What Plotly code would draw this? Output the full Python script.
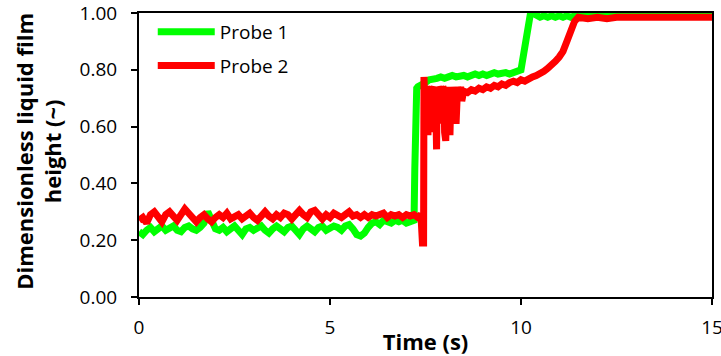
import plotly.graph_objects as go

# ---- Data ----
t_probe1 = [0.0, 0.1, 0.2, 0.3, 0.4, 0.5, 0.6, 0.7, 0.8, 0.9,
            1.0, 1.1, 1.2, 1.3, 1.4, 1.5, 1.6, 1.7, 1.8, 1.9,
            2.0, 2.1, 2.2, 2.3, 2.4, 2.5, 2.6, 2.7, 2.8, 2.9,
            3.0, 3.1, 3.2, 3.3, 3.4, 3.5, 3.6, 3.7, 3.8, 3.9,
            4.0, 4.1, 4.2, 4.3, 4.4, 4.5, 4.6, 4.7, 4.8, 4.9,
            5.0, 5.1, 5.2, 5.3, 5.4, 5.5, 5.6, 5.7, 5.8, 5.9,
            6.0, 6.1, 6.2, 6.3, 6.4, 6.5, 6.6, 6.7, 6.8, 6.9,
            7.0, 7.1, 7.2, 7.22, 7.24, 7.27, 7.3, 7.4, 7.5, 7.6,
            7.7, 7.8, 7.9, 8.0, 8.1, 8.2, 8.3, 8.4, 8.5, 8.6,
            8.7, 8.8, 8.9, 9.0, 9.1, 9.2, 9.3, 9.4, 9.5, 9.6,
            9.7, 9.8, 9.9, 10.0, 10.05, 10.1, 10.15, 10.2, 10.25, 10.3,
            10.35, 10.4, 10.5, 10.6, 10.7, 10.8, 10.9, 11.0, 11.1, 11.2,
            11.3, 11.4, 11.5, 12.0, 13.0, 14.0, 15.0]
h_probe1 = [0.23, 0.22, 0.235, 0.245, 0.23, 0.24, 0.25, 0.235, 0.24, 0.25,
            0.235, 0.23, 0.245, 0.25, 0.24, 0.235, 0.245, 0.26, 0.30, 0.27,
            0.24, 0.235, 0.245, 0.23, 0.24, 0.25, 0.235, 0.22, 0.24, 0.245,
            0.235, 0.24, 0.25, 0.235, 0.225, 0.24, 0.25, 0.24, 0.23, 0.245,
            0.25, 0.235, 0.22, 0.24, 0.25, 0.24, 0.23, 0.245, 0.25, 0.235,
            0.24, 0.25, 0.245, 0.235, 0.25, 0.255, 0.24, 0.22, 0.215, 0.225,
            0.245, 0.26, 0.265, 0.255, 0.27, 0.265, 0.26, 0.27, 0.265, 0.27,
            0.26, 0.265, 0.27, 0.45, 0.70, 0.735, 0.74, 0.745, 0.755, 0.765,
            0.765, 0.77, 0.775, 0.77, 0.775, 0.78, 0.775, 0.78, 0.78, 0.775,
            0.78, 0.785, 0.78, 0.785, 0.78, 0.785, 0.79, 0.785, 0.79, 0.79,
            0.785, 0.79, 0.795, 0.80, 0.84, 0.88, 0.93, 0.975, 1.0, 1.0,
            0.995, 0.99, 0.985, 0.99, 0.985, 0.99, 0.985, 0.99, 0.985, 0.99,
            0.985, 0.99, 0.99, 0.99, 0.99, 0.99, 0.99]

t_probe2 = [0.0, 0.1, 0.2, 0.3, 0.4, 0.5, 0.6, 0.7, 0.8, 0.9,
            1.0, 1.1, 1.2, 1.3, 1.4, 1.5, 1.6, 1.7, 1.8, 1.9,
            2.0, 2.1, 2.2, 2.3, 2.4, 2.5, 2.6, 2.7, 2.8, 2.9,
            3.0, 3.1, 3.2, 3.3, 3.4, 3.5, 3.6, 3.7, 3.8, 3.9,
            4.0, 4.1, 4.2, 4.3, 4.4, 4.5, 4.6, 4.7, 4.8, 4.9,
            5.0, 5.1, 5.2, 5.3, 5.4, 5.5, 5.6, 5.7, 5.8, 5.9,
            6.0, 6.1, 6.2, 6.3, 6.4, 6.5, 6.6, 6.7, 6.8, 6.9,
            7.0, 7.1, 7.2, 7.3, 7.38, 7.42, 7.45,
            7.46, 7.475, 7.49, 7.505, 7.52, 7.535, 7.55, 7.565, 7.58, 7.595,
            7.61, 7.625, 7.64, 7.655, 7.67, 7.685, 7.70, 7.715, 7.73, 7.745,
            7.76, 7.775, 7.79, 7.805, 7.82, 7.835, 7.85, 7.865, 7.88, 7.895,
            7.91, 7.925, 7.94, 7.955, 7.97, 7.985, 8.0, 8.03, 8.06, 8.09,
            8.12, 8.14, 8.17, 8.2, 8.23, 8.26, 8.3, 8.34, 8.38, 8.42,
            8.45, 8.5, 8.6,
            8.7, 8.8, 8.9, 9.0, 9.1, 9.2, 9.3, 9.4, 9.5, 9.6,
            9.7, 9.8, 9.9, 10.0, 10.1, 10.2, 10.3, 10.4, 10.5, 10.6,
            10.7, 10.8, 10.9, 11.0, 11.1, 11.2, 11.3, 11.4, 11.5, 11.75,
            12.0, 12.25, 12.5, 12.75, 13.0, 13.25, 13.5, 13.75, 14.0, 14.25,
            14.5, 14.75, 15.0]
h_probe2 = [0.27, 0.28, 0.26, 0.29, 0.30, 0.28, 0.265, 0.29, 0.30, 0.285,
            0.27, 0.29, 0.31, 0.295, 0.275, 0.265, 0.28, 0.29, 0.275, 0.265,
            0.28, 0.29, 0.28, 0.295, 0.275, 0.285, 0.29, 0.275, 0.285, 0.295,
            0.28, 0.27, 0.285, 0.30, 0.285, 0.275, 0.29, 0.28, 0.295, 0.29,
            0.275, 0.29, 0.305, 0.29, 0.28, 0.30, 0.305, 0.29, 0.275, 0.29,
            0.28, 0.295, 0.29, 0.28, 0.29, 0.30, 0.285, 0.29, 0.28, 0.29,
            0.28, 0.29, 0.285, 0.29, 0.295, 0.28, 0.29, 0.285, 0.29, 0.28,
            0.29, 0.285, 0.29, 0.28, 0.29, 0.19, 0.19,
            0.775, 0.62, 0.74, 0.58, 0.73, 0.60, 0.74, 0.57, 0.73, 0.60,
            0.74, 0.58, 0.73, 0.62, 0.74, 0.59, 0.73, 0.61, 0.74, 0.60,
            0.73, 0.56, 0.52, 0.72, 0.62, 0.74, 0.63, 0.73, 0.61, 0.74,
            0.64, 0.73, 0.62, 0.74, 0.65, 0.73, 0.58, 0.55, 0.73, 0.64,
            0.74, 0.57, 0.73, 0.67, 0.74, 0.68, 0.61, 0.74, 0.70, 0.74,
            0.69, 0.725, 0.72,
            0.73, 0.725, 0.735, 0.73, 0.74, 0.735, 0.745, 0.74, 0.75, 0.745,
            0.755, 0.76, 0.755, 0.765, 0.76, 0.77, 0.775, 0.78, 0.785, 0.795,
            0.805, 0.815, 0.83, 0.845, 0.865, 0.90, 0.94, 0.97, 0.985, 0.98,
            0.985, 0.98, 0.985, 0.985, 0.98, 0.985, 0.985, 0.98, 0.985, 0.985,
            0.98, 0.985, 0.985]

x_ticks = [0, 5, 10, 15]
y_ticks = [0.0, 0.2, 0.4, 0.6, 0.8, 1.0]

FONT = "Open Sans"

fig = go.Figure()
fig.add_trace(go.Scatter(x=t_probe1, y=h_probe1, mode="lines", name="Probe 1",
                         legendgroup="p1",
                         line=dict(color="#00ff00", width=7)))
fig.add_trace(go.Scatter(x=t_probe2, y=h_probe2, mode="lines", name="Probe 2",
                         legendgroup="p2",
                         line=dict(color="#ff0000", width=7)))

fig.update_layout(
    width=721, height=356,
    margin=dict(l=139, r=9, t=13, b=59, autoexpand=False),
    paper_bgcolor="white", plot_bgcolor="white",
    font=dict(family=FONT, size=19, color="black"),
    showlegend=True,
    legend=dict(x=0.024, y=1.0, xanchor="left", yanchor="top",
                bgcolor="rgba(0,0,0,0)", itemwidth=57,
                font=dict(family=FONT, size=19, color="black"),
                tracegroupgap=6),
    xaxis=dict(range=[0, 15], tickvals=x_ticks, ticktext=[str(v) for v in x_ticks],
               automargin=False, ticklabeloverflow="allow",
               showgrid=False, zeroline=False, showline=True, linecolor="black",
               linewidth=2, mirror=True, ticks="outside", ticklen=6, tickwidth=2,
               tickcolor="black", ticklabelstandoff=6,
               tickfont=dict(family=FONT, size=19, color="black"),
               title=dict(text="<b>Time (s)</b>", standoff=0,
                          font=dict(family=FONT, size=22, color="black"))),
    yaxis=dict(range=[0, 1.0], tickvals=y_ticks,
               ticktext=["%.2f" % v for v in y_ticks],
               automargin=False, ticklabeloverflow="allow",
               showgrid=False, zeroline=False, showline=True, linecolor="black",
               linewidth=2, mirror=True, ticks="outside", ticklen=6, tickwidth=2,
               tickcolor="black", ticklabelstandoff=10,
               tickfont=dict(family=FONT, size=19, color="black")),
    annotations=[dict(text="<b>Dimensionless liquid film<br>height (~)</b>",
                      xref="paper", yref="paper", x=-0.176, y=0.512,
                      xanchor="center", yanchor="middle", textangle=-90,
                      showarrow=False,
                      font=dict(family=FONT, size=22, color="black"))],
)

# Remove the browser's default 8px body margin so the 721x356 figure fills the window.
fig.write_html("out.html",
               config={"displayModeBar": False},
               post_script="document.body.style.margin='0';document.body.style.overflow='hidden';")
